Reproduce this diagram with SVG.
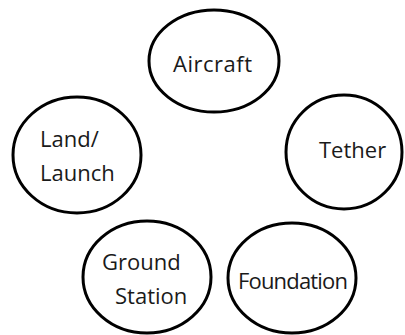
<svg xmlns="http://www.w3.org/2000/svg" width="405" height="335" viewBox="0 0 405 335">
  <style>
    .node ellipse { fill: #ffffff; stroke: #000000; stroke-width: 3; }
    .node text { font-family: "Open Sans", "Noto Sans", sans-serif; font-size: 22px; fill: #1a1a1a; }
  </style>
  <rect width="405" height="335" fill="#ffffff"/>
  <g id="connectors"></g>
  <g id="aircraft" class="node">
    <ellipse cx="214" cy="61" rx="65" ry="51"/>
    <text x="173" y="72" textLength="79">Aircraft</text>
  </g>
  <g id="land-launch" class="node">
    <ellipse cx="77" cy="155" rx="64" ry="58"/>
    <text x="40" y="147">Land/</text>
    <text x="40" y="181">Launch</text>
  </g>
  <g id="tether" class="node">
    <ellipse cx="344" cy="152" rx="58" ry="57"/>
    <text x="319" y="158">Tether</text>
  </g>
  <g id="ground-station" class="node">
    <ellipse cx="147" cy="277" rx="64" ry="56"/>
    <text x="102" y="270">Ground</text>
    <text x="115" y="304">Station</text>
  </g>
  <g id="foundation" class="node">
    <ellipse cx="292" cy="278" rx="64" ry="55"/>
    <text x="238" y="289" textLength="110">Foundation</text>
  </g>
</svg>
